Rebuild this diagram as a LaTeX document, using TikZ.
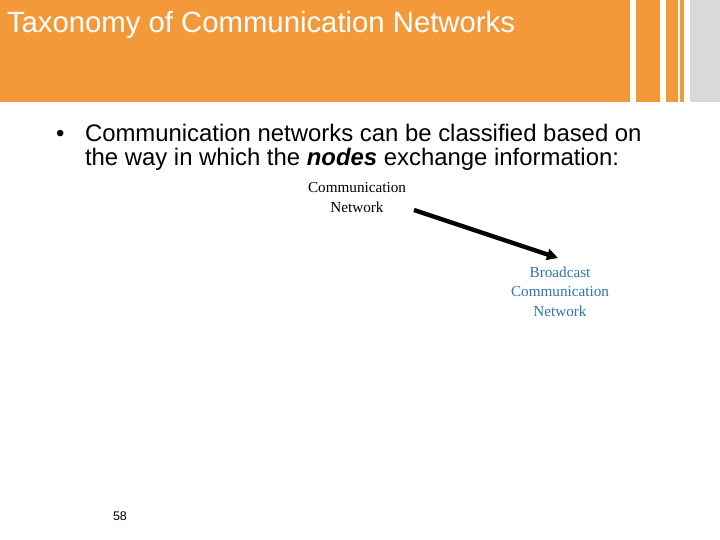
\documentclass[tikz,border=0pt]{standalone}
\usepackage{fontspec}
\setmainfont{Liberation Sans}
\newfontfamily\tnr{Liberation Serif}
\usetikzlibrary{arrows.meta}
\definecolor{band}{HTML}{F4993A}
\definecolor{side}{HTML}{D9D9D9}
\definecolor{bcblue}{HTML}{2E74B5}
\tikzset{
  lbl/.style={inner sep=0pt, outer sep=0pt},
  body/.style={lbl, anchor=base west, font=\fontsize{23.9}{24}\selectfont},
  tnrtext/.style={lbl, align=center, font=\tnr\fontsize{15.2}{19.3}\selectfont},
  conn/.style={line width=4.3pt, -{Triangle[length=11pt,width=11pt]}}
}
\begin{document}
\begin{tikzpicture}[x=1pt,y=-1pt]
\useasboundingbox (0,0) rectangle (720,540);
\fill[white] (0,0) rectangle (720,540);
% header band
\fill[band] (0,0) rectangle (630,102);
\fill[band] (636,0) rectangle (660,102);
\fill[band] (666,0) rectangle (678,102);
\fill[band] (680,0) rectangle (684,102);
\fill[side] (690,0) rectangle (720,102);
\node[lbl, anchor=base west, text=white, font=\fontsize{29.3}{30}\selectfont] (title) at (7,33) {Taxonomy of Communication Networks};
% bullet text
\node[body] (bul) at (56,142) {•};
\node[body] (l1) at (85,142) {Communication networks can be classified based on};
\node[body] (l2) at (85,166) {the way in which the \textbf{\textit{nodes}} exchange information:};
% diagram (base anchor = baseline of the last line)
\node[tnrtext, anchor=base] (cn) at (357,212) {Communication\\Network};
\node[tnrtext, anchor=base, text=bcblue] (bc) at (560,316) {Broadcast\\Communication\\Network};
\coordinate (a1) at (414,210);
\coordinate (a2) at (558,258);
\draw[conn] (a1) -- (a2);
% page number
\node[lbl, anchor=base, font=\fontsize{12.5}{13}\selectfont] (pg) at (120,520) {58};
\end{tikzpicture}
\end{document}
